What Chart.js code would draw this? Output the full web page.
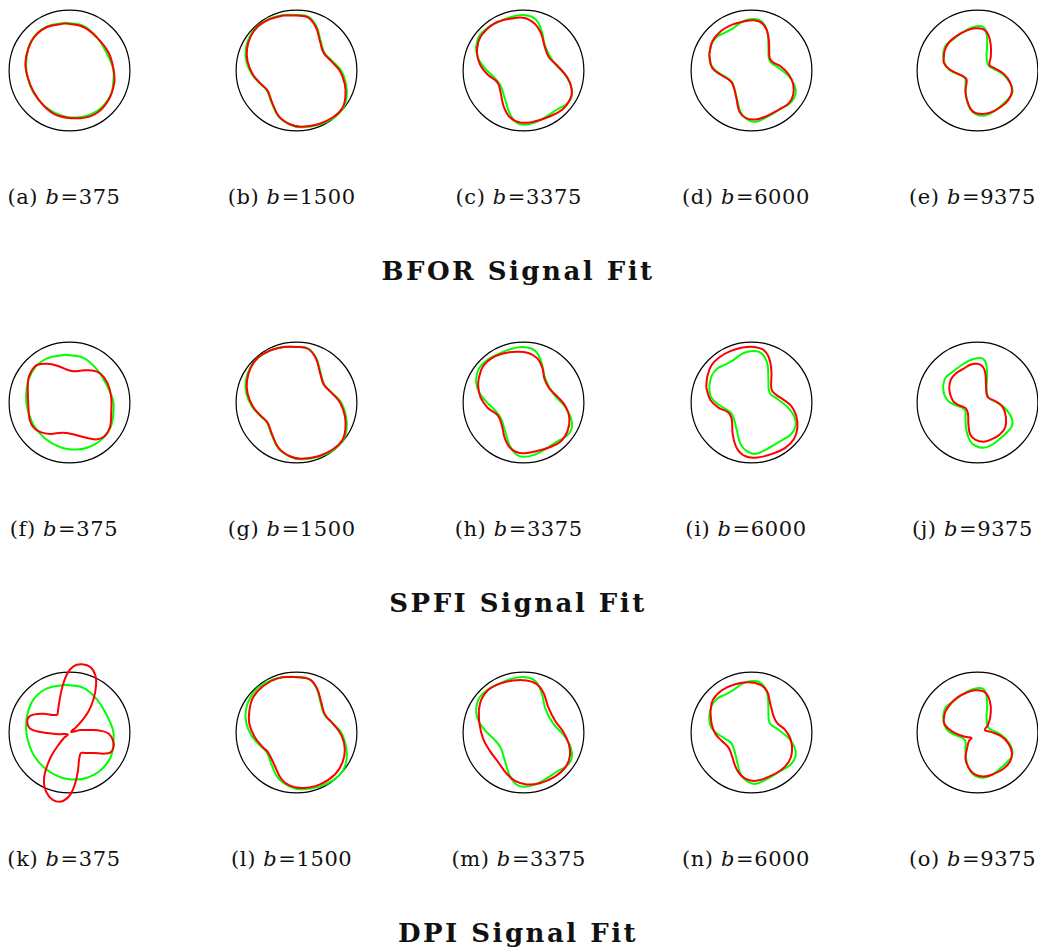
<!DOCTYPE html>
<html>
<head>
<meta charset="utf-8">
<script src="https://cdn.jsdelivr.net/npm/chart.js@4.4.0/dist/chart.umd.min.js"></script>
<style>
  html, body { margin: 0; padding: 0; background: #fff; overflow: hidden; }
  #page { position: relative; width: 1038px; height: 952px; }
  canvas { position: absolute; }
  .cap { position: absolute; font-family: 'DejaVu Serif', serif; font-size: 21px; line-height: 21px;
         letter-spacing: 0.6px; white-space: nowrap; color: #111; transform: translateX(-50%); }
  .cap i { margin-right: 1px; }
  .title { position: absolute; font-family: 'DejaVu Serif', serif; font-weight: bold; font-size: 26px;
           line-height: 26px; letter-spacing: 2.5px; white-space: nowrap; color: #111; transform: translateX(-50%); }
</style>
</head>
<body>
<div id="page"></div>
<script>
// b-values per column, methods per row
const bValues = [375, 1500, 3375, 6000, 9375];
const methods = ['BFOR', 'SPFI', 'DPI'];
const letters = ['a','b','c','d','e','f','g','h','i','j','k','l','m','n','o'];

// ground-truth signal (green), one per b-value, unit circle = 100
const green375 = [[-7,79],[23,74],[46,54],[62,28],[72,4],[73,-13],[68,-41],[51,-63],[29,-75],[10,-78],[-15,-74],[-40,-60],[-59,-38],[-69,-13],[-72,9],[-68,37],[-57,58],[-37,73]];
const green1500 = [[-22,92],[0,92],[20,89],[33,73],[40,49],[46,30],[59,16],[74,0],[82,-23],[83,-44],[77,-63],[62,-78],[37,-90],[8,-94],[-12,-89],[-30,-76],[-41,-54],[-49,-33],[-59,-23],[-74,-6],[-83,15],[-84,36],[-77,57],[-64,74],[-44,86]];
const green3375 = [[-79,37],[-74,56],[-59,71],[-42,80],[-23,88],[-3,92],[14,89],[24,80],[31,62],[36,40],[49,15],[67,-5],[78,-24],[80,-42],[73,-54],[55,-65],[35,-78],[19,-86],[2,-90],[-12,-86],[-23,-71],[-31,-46],[-38,-25],[-49,-11],[-64,4],[-75,20]];
const green6000 = [[-70,27],[-66,44],[-57,56],[-43,63],[-29,71],[-15,81],[-2,85],[12,84],[22,75],[27,60],[28,38],[30,16],[44,5],[61,-9],[71,-24],[73,-39],[65,-53],[46,-65],[24,-78],[7,-85],[-7,-81],[-18,-69],[-24,-47],[-29,-28],[-34,-17],[-46,-9],[-60,1],[-68,11]];
const green9375 = [[-57,27],[-53,41],[-41,51],[-29,60],[-15,69],[-3,73],[8,73],[14,65],[16,46],[15,24],[17,10],[22,5],[36,-2],[48,-12],[57,-27],[57,-39],[48,-50],[36,-61],[22,-71],[10,-75],[-3,-72],[-12,-64],[-18,-48],[-20,-28],[-20,-14],[-25,-9],[-37,-4],[-48,2],[-55,13]];

// BFOR fits
const redA = [[-7,78],[23,72],[46,54],[65,29],[73,1],[74,-21],[65,-48],[46,-70],[18,-79],[-21,-74],[-43,-58],[-59,-36],[-69,-12],[-73,12],[-68,37],[-57,57],[-37,72]];
const redB = [[-22,91],[0,91],[19,88],[32,72],[39,48],[45,29],[58,15],[72,-1],[80,-23],[81,-43],[76,-62],[61,-77],[36,-89],[8,-93],[-11,-89],[-29,-76],[-40,-54],[-48,-33],[-58,-23],[-72,-7],[-81,15],[-82,35],[-76,56],[-64,73],[-44,85]];
const redC = [[-75,47],[-69,59],[-48,78],[-20,86],[2,87],[19,77],[29,62],[35,40],[42,22],[57,7],[73,-12],[80,-32],[77,-48],[64,-65],[41,-77],[16,-85],[-6,-86],[-23,-77],[-33,-59],[-38,-36],[-43,-20],[-59,-7],[-72,10],[-77,29]];
const redD = [[-70,26],[-65,48],[-51,65],[-32,76],[-13,81],[4,83],[18,78],[26,65],[29,46],[30,21],[35,14],[48,7],[62,-7],[69,-23],[69,-40],[62,-54],[45,-65],[26,-75],[7,-81],[-9,-79],[-20,-68],[-25,-46],[-31,-23],[-38,-15],[-51,-7],[-65,4]];
const redE = [[-56,20],[-54,34],[-46,48],[-32,59],[-18,66],[-4,70],[10,68],[18,59],[22,42],[22,23],[20,9],[28,4],[44,-6],[54,-20],[57,-35],[51,-49],[39,-60],[23,-69],[8,-72],[-6,-69],[-15,-56],[-20,-35],[-18,-15],[-25,-9],[-40,-2],[-51,6],[-56,14]];

// SPFI fits
const redF = [[-62,54],[-54,62],[-37,64],[-18,60],[4,52],[21,53],[37,53],[51,48],[63,32],[69,9],[69,-19],[67,-41],[58,-56],[46,-61],[26,-58],[4,-52],[-12,-50],[-32,-52],[-48,-49],[-59,-42],[-66,-28],[-68,-7],[-69,17],[-68,40]];
const redG = [[-22,92],[0,92],[19,89],[32,73],[39,49],[45,30],[58,16],[72,0],[80,-22],[81,-43],[76,-62],[61,-77],[36,-89],[8,-93],[-11,-89],[-29,-76],[-40,-54],[-48,-33],[-58,-23],[-72,-7],[-81,15],[-82,36],[-76,57],[-64,74],[-44,86]];
const redH = [[-74,41],[-67,60],[-53,73],[-34,81],[-12,84],[8,82],[23,73],[31,58],[35,38],[43,23],[57,9],[70,-7],[76,-26],[73,-47],[62,-64],[41,-75],[19,-81],[-3,-84],[-21,-76],[-31,-59],[-36,-37],[-43,-21],[-59,-9],[-71,8],[-75,27]];
const redI = [[-75,25],[-73,44],[-66,62],[-53,75],[-35,85],[-15,91],[4,92],[20,87],[29,74],[33,52],[33,22],[39,14],[54,4],[66,-6],[74,-22],[76,-42],[70,-61],[56,-75],[34,-85],[9,-91],[-10,-89],[-24,-76],[-31,-53],[-33,-26],[-39,-16],[-54,-9],[-68,4]];
const redJ = [[-47,25],[-44,38],[-36,48],[-23,56],[-11,63],[0,64],[9,59],[13,48],[14,30],[15,14],[18,8],[30,2],[42,-8],[47,-24],[46,-41],[37,-53],[23,-61],[10,-65],[-3,-62],[-12,-53],[-15,-36],[-16,-17],[-20,-9],[-32,-4],[-40,2],[-45,13]];

// DPI fits
const redK = [[-20,29],[-17,50],[-12,75],[-4,97],[7,110],[21,113],[35,108],[43,94],[44,78],[40,56],[32,36],[21,20],[11,9],[3,1],[18,4],[35,4],[51,3],[65,-2],[72,-13],[73,-24],[68,-33],[57,-35],[40,-34],[26,-34],[19,-34],[16,-44],[14,-63],[10,-82],[2,-102],[-10,-113],[-22,-114],[-33,-107],[-41,-92],[-42,-74],[-37,-55],[-29,-37],[-18,-20],[-9,-9],[-3,-3],[-18,-3],[-37,-1],[-54,2],[-66,7],[-70,17],[-67,26],[-58,30],[-43,31],[-27,29]];
const redL = [[-3,92],[22,88],[34,73],[41,50],[47,30],[61,14],[75,-6],[80,-28],[76,-50],[64,-69],[39,-86],[11,-92],[-11,-88],[-25,-77],[-36,-55],[-47,-33],[-55,-25],[-69,-8],[-78,14],[-78,36],[-72,58],[-55,77],[-30,90]];
const redM = [[-74,37],[-70,54],[-59,70],[-39,81],[-17,86],[5,86],[22,80],[33,66],[41,42],[52,20],[66,1],[75,-19],[77,-38],[70,-57],[52,-73],[27,-84],[5,-86],[-14,-80],[-28,-68],[-42,-49],[-56,-30],[-67,-10],[-73,15]];
const redN = [[-68,35],[-64,54],[-49,70],[-27,80],[-4,83],[15,79],[26,68],[31,48],[37,26],[43,15],[56,4],[65,-12],[67,-32],[62,-48],[48,-63],[29,-73],[7,-80],[-11,-76],[-24,-62],[-32,-40],[-38,-25],[-49,-14],[-60,-2],[-66,14]];
const redO = [[-56,21],[-53,35],[-44,48],[-32,59],[-18,66],[-4,70],[10,68],[18,59],[22,43],[21,25],[17,12],[12,4],[22,1],[39,-6],[51,-18],[57,-33],[54,-48],[43,-60],[26,-69],[10,-73],[-5,-69],[-15,-58],[-20,-43],[-17,-25],[-14,-14],[-10,-9],[-21,-7],[-37,-1],[-49,7],[-55,15]];

const greens = [green375, green1500, green3375, green6000, green9375];
const reds = [
  [redA, redB, redC, redD, redE],
  [redF, redG, redH, redI, redJ],
  [redK, redL, redM, redN, redO]
];

// panel layout (circle centres in page pixels)
const colX = [69, 296.7, 523.7, 751, 977.5];
const rowY = [70.8, 402.2, 732];
const SIZE = 151;

// unit circle drawn through the chart's own scales
const unitCircle = {
  id: 'unitCircle',
  beforeDatasetsDraw(chart) {
    const { ctx, scales: { x, y } } = chart;
    const cx = x.getPixelForValue(0);
    const cy = y.getPixelForValue(0);
    const r = x.getPixelForValue(100) - cx;
    ctx.save();
    ctx.beginPath();
    ctx.arc(cx, cy, r, 0, Math.PI * 2);
    ctx.lineWidth = 1.2;
    ctx.strokeStyle = '#000';
    ctx.stroke();
    ctx.restore();
  }
};

function closed(pts) {
  return pts.concat([pts[0]]).map(p => ({ x: p[0], y: p[1] }));
}

function makePanel(left, top, green, red) {
  const canvas = document.createElement('canvas');
  canvas.width = SIZE;
  canvas.height = SIZE;
  canvas.style.left = left + 'px';
  canvas.style.top = top + 'px';
  document.getElementById('page').appendChild(canvas);

  new Chart(canvas, {
    type: 'scatter',
    data: {
      datasets: [
        { data: closed(red), borderColor: '#ff0000', showLine: true, clip: false },
        { data: closed(green), borderColor: '#00ff00', showLine: true, clip: false }
      ]
    },
    options: {
      responsive: false,
      animation: false,
      events: [],
      layout: { padding: 0 },
      elements: {
        point: { radius: 0 },
        line: { tension: 0.4, borderWidth: 2, fill: false, capBezierPoints: false }
      },
      plugins: { legend: { display: false }, tooltip: { enabled: false } },
      scales: {
        x: { type: 'linear', min: -125, max: 125, display: false },
        y: { type: 'linear', min: -125, max: 125, display: false }
      }
    },
    plugins: [unitCircle]
  });
}

function addText(cls, html, cx, top) {
  const el = document.createElement('div');
  el.className = cls;
  el.innerHTML = html;
  el.style.left = cx + 'px';
  el.style.top = top + 'px';
  document.getElementById('page').appendChild(el);
}

methods.forEach((method, r) => {
  bValues.forEach((b, c) => {
    makePanel(colX[c] - SIZE / 2, rowY[r] - SIZE / 2, greens[c], reds[r][c]);
    const letter = letters[r * 5 + c];
    addText('cap', '(' + letter + ') <i>b</i>=' + b, colX[c] - 5, rowY[r] + 116.5);
  });
  addText('title', method + ' Signal Fit', 518, rowY[r] + 187.5);
});
</script>
</body>
</html>
